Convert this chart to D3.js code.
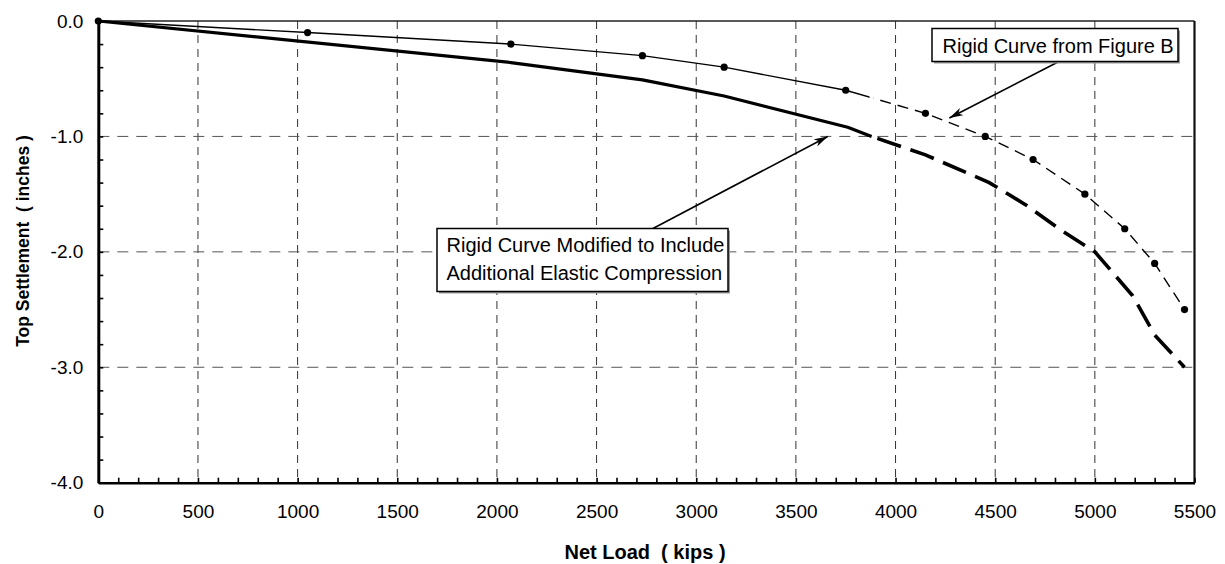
<!DOCTYPE html>
<html>
<head>
<meta charset="utf-8">
<script src="https://cdn.jsdelivr.net/npm/d3@7"></script>
<style>
  html, body { margin: 0; padding: 0; background: #fff; }
  svg { display: block; font-family: Arial, "Liberation Sans", sans-serif; }
</style>
</head>
<body>
<svg id="chart" width="1225" height="564"></svg>
<script>
// ---------- data ----------
const rigidLoad   = [0, 1050, 2070, 2730, 3140, 3750, 4150, 4450, 4690, 4950, 5150, 5300, 5450];
const rigidSettle = [0, -0.1, -0.2, -0.3, -0.4, -0.6, -0.8, -1.0, -1.2, -1.5, -1.8, -2.1, -2.5];
const rigidBreakLoad = 3870;   // solid -> dashed transition

const modLoad   = [0, 2070, 2730, 3140, 3760, 3880, 4150, 4470, 4660, 4820, 5000, 5190, 5300, 5450];
const modSettle = [0, -0.36, -0.51, -0.65, -0.92, -1.0, -1.16, -1.40, -1.60, -1.80, -2.0, -2.38, -2.72, -3.0];
const modBreakLoad = 3880;

const xMajorTicks = [0, 500, 1000, 1500, 2000, 2500, 3000, 3500, 4000, 4500, 5000, 5500];
const xTickLabels = ["0", "500", "1000", "1500", "2000", "2500", "3000", "3500", "4000", "4500", "5000", "5500"];
const yMajorTicks = [0, -1, -2, -3, -4];
const yTickLabels = ["0.0", "-1.0", "-2.0", "-3.0", "-4.0"];

const xTitle = "Net Load  ( kips )";
const yTitle = "Top Settlement  ( inches )";
const note1 = ["Rigid Curve from Figure B"];
const note2 = ["Rigid Curve Modified to Include", "Additional Elastic Compression"];

// ---------- layout ----------
const L = 98.3, R = 1194.5, T = 21, B = 482.7;
const svg = d3.select("#chart");
const x = d3.scaleLinear().domain([0, 5500]).range([L, R]);
const y = d3.scaleLinear().domain([-4, 0]).range([B, T]);

const defs = svg.append("defs");
defs.append("marker").attr("id", "arrow")
  .attr("viewBox", "0 0 14 8").attr("refX", 14).attr("refY", 4)
  .attr("markerWidth", 14).attr("markerHeight", 8).attr("markerUnits", "userSpaceOnUse")
  .attr("orient", "auto")
  .append("path").attr("d", "M0,0 L14,4 L0,8 L4,4 Z").attr("fill", "#000");

// grid
const grid = svg.append("g");
grid.selectAll("line.v").data(xMajorTicks.filter(d => d > 0 && d < 5500)).enter()
  .append("line").attr("x1", d => x(d)).attr("x2", d => x(d)).attr("y1", T).attr("y2", B)
  .attr("stroke", "#333").attr("stroke-width", 1).attr("stroke-dasharray", "8,6");
grid.selectAll("line.h").data(yMajorTicks.filter(d => d < 0 && d > -4)).enter()
  .append("line").attr("y1", d => y(d)).attr("y2", d => y(d)).attr("x1", L).attr("x2", R)
  .attr("stroke", "#555").attr("stroke-width", 1).attr("stroke-dasharray", "11,8");

// frame (top & right)
svg.append("line").attr("x1", L).attr("x2", R).attr("y1", T).attr("y2", T)
  .attr("stroke", "#222").attr("stroke-width", 1.5);
svg.append("line").attr("x1", R).attr("x2", R).attr("y1", T).attr("y2", B)
  .attr("stroke", "#111").attr("stroke-width", 2.2);

// axes
const xMinor = d3.range(0, 56).map(i => i * 100);
const yMinor = d3.range(0, 21).map(i => Math.round((-4 + i * 0.2) * 10) / 10);

const xAxis = d3.axisBottom(x).tickValues(xMinor).tickSize(-5).tickSizeOuter(0).tickPadding(22)
  .tickFormat(d => { const i = xMajorTicks.indexOf(d); return i >= 0 ? xTickLabels[i] : ""; });
const gx = svg.append("g").attr("transform", `translate(0,${B})`).call(xAxis);
gx.select(".domain").attr("stroke", "#000").attr("stroke-width", 2.6);
gx.selectAll(".tick line").attr("stroke", "#000").attr("stroke-width", 1.6);
gx.selectAll(".tick text").attr("font-size", 19).attr("fill", "#000")
  .attr("font-family", "Arial, 'Liberation Sans', sans-serif");

const yAxis = d3.axisLeft(y).tickValues(yMinor).tickSize(-5).tickSizeOuter(0).tickPadding(15)
  .tickFormat(d => { const i = yMajorTicks.findIndex(v => Math.abs(v - d) < 1e-9); return i >= 0 ? yTickLabels[i] : ""; });
const gy = svg.append("g").attr("transform", `translate(${L},0)`).call(yAxis);
gy.select(".domain").attr("stroke", "#000").attr("stroke-width", 3);
gy.selectAll(".tick line").attr("stroke", "#000").attr("stroke-width", 1.6);
gy.selectAll(".tick text").attr("font-size", 19).attr("fill", "#000")
  .attr("font-family", "Arial, 'Liberation Sans', sans-serif");

// titles
svg.append("text").attr("x", 645).attr("y", 559).attr("text-anchor", "middle")
  .attr("font-size", 20).attr("font-weight", "bold").style("white-space", "pre").text(xTitle);
svg.append("text").attr("transform", "translate(29,241) rotate(-90)").attr("text-anchor", "middle")
  .attr("font-size", 17.5).attr("font-weight", "bold").style("white-space", "pre").text(yTitle);

// ---------- series ----------
const line = d3.line().x(d => x(d[0])).y(d => y(d[1]));
const rigid = rigidLoad.map((v, i) => [v, rigidSettle[i]]);
const mod = modLoad.map((v, i) => [v, modSettle[i]]);

defs.append("clipPath").attr("id", "clipRigidSolid").append("rect")
  .attr("x", 0).attr("y", 0).attr("width", x(rigidBreakLoad)).attr("height", 564);
defs.append("clipPath").attr("id", "clipRigidDash").append("rect")
  .attr("x", x(rigidBreakLoad) + 4).attr("y", 0).attr("width", 1225).attr("height", 564);

// modified curve (bold)
svg.append("path").datum(mod.filter(d => d[0] <= modBreakLoad)).attr("d", line)
  .attr("fill", "none").attr("stroke", "#000").attr("stroke-width", 3.2).attr("stroke-linejoin", "round");
svg.append("path").datum(mod.filter(d => d[0] >= modBreakLoad)).attr("d", line)
  .attr("fill", "none").attr("stroke", "#000").attr("stroke-width", 3.6)
  .attr("stroke-dasharray", "25,10").attr("stroke-dashoffset", -6);

// rigid curve (thin)
svg.append("path").datum(rigid).attr("d", line).attr("clip-path", "url(#clipRigidSolid)")
  .attr("fill", "none").attr("stroke", "#000").attr("stroke-width", 1.4);
svg.append("path").datum(rigid.filter(d => d[0] >= 3750)).attr("d", line).attr("clip-path", "url(#clipRigidDash)")
  .attr("fill", "none").attr("stroke", "#000").attr("stroke-width", 1.4).attr("stroke-dasharray", "11,7");
svg.selectAll("circle.pt").data(rigid).enter().append("circle")
  .attr("cx", d => x(d[0])).attr("cy", d => y(d[1])).attr("r", 3.6).attr("fill", "#000");

// ---------- annotations ----------
function noteBox(x0, y0, w, h, lines, tx, ty, lh) {
  svg.append("rect").attr("x", x0 + 2).attr("y", y0 + 2).attr("width", w).attr("height", h).attr("fill", "#999");
  svg.append("rect").attr("x", x0).attr("y", y0).attr("width", w).attr("height", h)
    .attr("fill", "#fff").attr("stroke", "#000").attr("stroke-width", 1.5);
  lines.forEach((s, i) => svg.append("text").attr("x", tx).attr("y", ty + i * lh)
    .attr("font-size", 20).attr("fill", "#000").text(s));
}
// arrows
svg.append("line").attr("x1", 1058).attr("y1", 62).attr("x2", x(4270)).attr("y2", y(-0.84))
  .attr("stroke", "#000").attr("stroke-width", 1.6).attr("marker-end", "url(#arrow)");
svg.append("line").attr("x1", 652).attr("y1", 229).attr("x2", x(3660)).attr("y2", y(-1.0))
  .attr("stroke", "#000").attr("stroke-width", 1.6).attr("marker-end", "url(#arrow)");

noteBox(932, 28.5, 246, 33, note1, 942.5, 52.5, 0);
noteBox(437, 228.5, 291, 63, note2, 446.5, 251.5, 28.5);
</script>
</body>
</html>
